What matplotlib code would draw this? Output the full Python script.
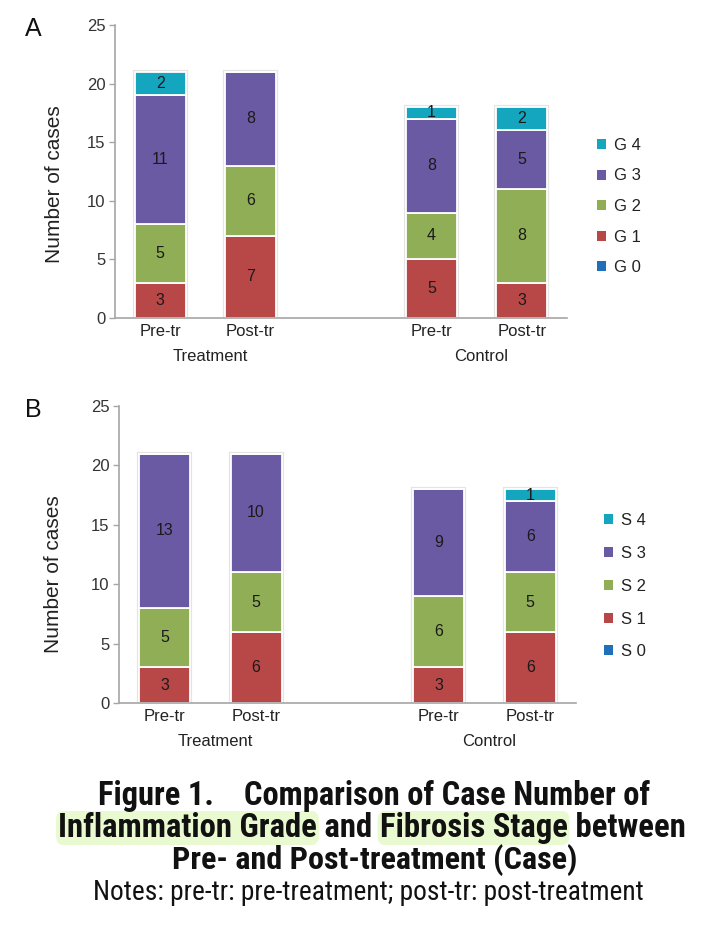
import matplotlib
matplotlib.use('Agg')
import matplotlib.pyplot as plt
from matplotlib import font_manager
from matplotlib.patches import FancyBboxPatch, Patch

# ---------------- data ----------------
categories = ['Pre-tr', 'Post-tr', 'Pre-tr', 'Post-tr']
groups = ['Treatment', 'Control']
positions = [0, 1, 3, 4]
group_centers = [0.5, 3.5]
yticks = [0, 5, 10, 15, 20, 25]

grade_labels = ['G 0', 'G 1', 'G 2', 'G 3', 'G 4']
g0 = [0, 0, 0, 0]
g1 = [3, 7, 5, 3]
g2 = [5, 6, 4, 8]
g3 = [11, 8, 8, 5]
g4 = [2, 0, 1, 2]

stage_labels = ['S 0', 'S 1', 'S 2', 'S 3', 'S 4']
s0 = [0, 0, 0, 0]
s1 = [3, 6, 3, 6]
s2 = [5, 5, 6, 5]
s3 = [13, 10, 9, 6]
s4 = [0, 0, 0, 1]

colors = ['#1f70b8', '#b84848', '#8fae55', '#6a5aa3', '#14a6bf']

caption_line1 = 'Figure 1.    Comparison of Case Number of'
caption_line2 = [('Inflammation Grade', True), (' and ', False),
                 ('Fibrosis Stage', True), (' between', False)]
caption_line3 = 'Pre- and Post-treatment (Case)'
notes = 'Notes: pre-tr: pre-treatment; post-tr: post-treatment'


def have(name):
    try:
        font_manager.findfont(font_manager.FontProperties(family=name),
                              fallback_to_default=False)
        return True
    except Exception:
        return False


BASE = 'Liberation Sans' if have('Liberation Sans') else 'DejaVu Sans'
NARROW = BASE
for cand in ['Liberation Sans Narrow', 'Arial Narrow', 'Roboto Condensed',
             'Open Sans Condensed', 'Noto Sans Condensed', 'DejaVu Sans Condensed']:
    if have(cand):
        NARROW = cand
        break
plt.rcParams['font.family'] = [BASE, 'DejaVu Sans']

W, H = 708, 932
fig = plt.figure(figsize=(W / 100, H / 100), dpi=100)

AX_GRAY = '#a6a6a6'
TXT = '#222222'


def px_rect(l, r, t, b):
    return [l / W, 1 - b / H, (r - l) / W, (b - t) / H]


def panel(rect, series, labels, letter, letter_xy, legend_xy, lspace,
          ylab_xy):
    ax = fig.add_axes(rect)
    bottoms = [0] * len(positions)
    totals = [sum(v) for v in zip(*series)]
    # soft shadow behind bars
    ax.bar(positions, totals, width=0.56, color='none', edgecolor='#e4e4e4',
           linewidth=3.0, zorder=0.5)
    handles = []
    for vals, lab, col in zip(series, labels, colors):
        ax.bar(positions, vals, width=0.56, bottom=bottoms, color=col,
               edgecolor='white', linewidth=1.3, zorder=1, label=lab)
        for x, v, b in zip(positions, vals, bottoms):
            if v > 0:
                ax.text(x, b + v / 2, str(v), ha='center', va='center',
                        fontsize=11.5, color='#1a1a1a', zorder=3)
        handles.append(Patch(facecolor=col, edgecolor='none', label=lab))
        bottoms = [b + v for b, v in zip(bottoms, vals)]
    ax.set_xlim(-0.5, 4.5)
    ax.set_ylim(0, 25)
    ax.set_yticks(yticks)
    ax.set_yticklabels([str(t) for t in yticks])
    ax.set_xticks([])
    for s in ['top', 'right']:
        ax.spines[s].set_visible(False)
    for s in ['left', 'bottom']:
        ax.spines[s].set_color(AX_GRAY)
        ax.spines[s].set_linewidth(1.2)
    ax.tick_params(axis='y', length=4, width=1, color=AX_GRAY,
                   labelsize=12, labelcolor='#333333', pad=3)
    ax.set_ylabel('Number of cases', fontsize=15, color=TXT)
    ax.yaxis.set_label_coords(*ylab_xy)
    for x, c in zip(positions, categories):
        ax.annotate(c, xy=(x, 0), xycoords=('data', 'axes fraction'),
                    xytext=(0, -10), textcoords='offset points',
                    ha='center', va='center', fontsize=12, color=TXT)
    for x, g in zip(group_centers, groups):
        ax.annotate(g, xy=(x + 0.05, 0), xycoords=('data', 'axes fraction'),
                    xytext=(0, -28), textcoords='offset points',
                    ha='center', va='center', fontsize=12, color=TXT)
    fig.text(letter_xy[0] / W, 1 - letter_xy[1] / H, letter, fontsize=18,
             ha='center', va='center', color='#111111')
    leg = fig.legend(handles=handles[::-1], loc='upper left',
                     bbox_to_anchor=(legend_xy[0] / W, 1 - legend_xy[1] / H),
                     frameon=False, fontsize=12, handlelength=0.55,
                     handleheight=0.55, handletextpad=0.45,
                     labelspacing=lspace, borderpad=0, borderaxespad=0)
    for t in leg.get_texts():
        t.set_color(TXT)
    return ax


axA = panel(px_rect(115, 567, 25, 318), [g0, g1, g2, g3, g4], grade_labels,
            'A', (33, 29), (597, 138), 0.93, (-0.113, 0.457))
axB = panel(px_rect(119, 576, 406, 703), [s0, s1, s2, s3, s4], stage_labels,
            'B', (33, 410), (604, 513), 1.07, (-0.1225, 0.434))

# ---------------- caption ----------------
renderer = fig.canvas.get_renderer()


def fit_text(x_px, y_px, s, target_w, weight, ha='left', family=NARROW,
             size0=18):
    t = fig.text(x_px / W, 1 - y_px / H, s, fontsize=size0, fontweight=weight,
                 family=[family, 'DejaVu Sans'], ha=ha, va='center',
                 color='#111111')
    w = t.get_window_extent(renderer).width
    t.set_fontsize(size0 * target_w / w)
    return t


fit_text(374, 796, caption_line1, 553, 'bold', ha='center')
fit_text(375, 860, caption_line3, 406, 'bold', ha='center')
fit_text(368, 892, notes, 550, 'normal', ha='center')

# line 2 with highlighted pieces
size0 = 18
pieces = []
for s, hl in caption_line2:
    t = fig.text(0, 0, s, fontsize=size0, fontweight='bold',
                 family=[NARROW, 'DejaVu Sans'], ha='left', va='center',
                 color='#111111')
    pieces.append((t, hl))
total = sum(t.get_window_extent(renderer).width for t, _ in pieces)
scale = 628 / total
x = 58
y2 = 828
for t, hl in pieces:
    t.set_fontsize(size0 * scale)
    w = t.get_window_extent(renderer).width
    t.set_position((x / W, 1 - y2 / H))
    if hl:
        box = FancyBboxPatch(((x - 2) / W, 1 - (y2 + 17) / H), (w + 4) / W,
                             34 / H,
                             boxstyle='round,pad=0,rounding_size=0.01',
                             transform=fig.transFigure, facecolor='#eafad0',
                             edgecolor='none', zorder=-1)
        fig.patches.append(box)
    x += w

fig.savefig('out.png', dpi=100)
